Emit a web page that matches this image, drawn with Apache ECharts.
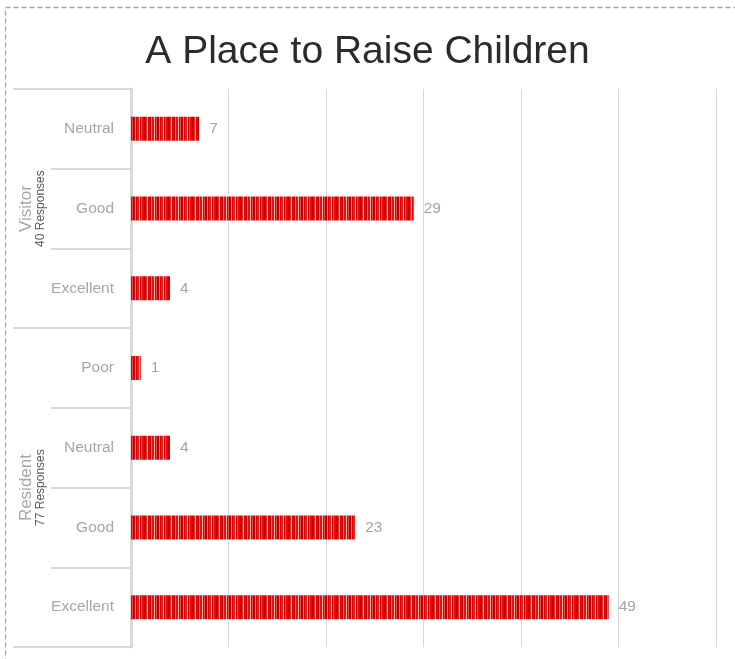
<!DOCTYPE html>
<html>
<head>
<meta charset="utf-8">
<script src="https://cdn.jsdelivr.net/npm/echarts@6/dist/echarts.min.js"></script>
<style>
  html, body { margin: 0; padding: 0; background: #ffffff; }
  #chart { width: 735px; height: 659px; }
</style>
</head>
<body>
<div id="chart"></div>
<script>
// Rating rows, top to bottom
const ratingLabels = ['Neutral', 'Good', 'Excellent', 'Poor', 'Neutral', 'Good', 'Excellent'];
const responseCounts = [7, 29, 4, 1, 4, 23, 49];

// Respondent groups spanning the rows above
const groupNames = ['Visitor', 'Resident'];
const groupResponses = [40, 77];
const groupSizes = [3, 4];

// Value axis
const axisMax = 60;
const axisStep = 10;

// Group boundaries and centres along the row index
const groupEdges = [0];
groupSizes.forEach(function (n) { groupEdges.push(groupEdges[groupEdges.length - 1] + n); });
const groupCentres = groupSizes.map(function (n, i) { return groupEdges[i] + n / 2; });

// Striped red fill for the bars
function stripeTexture() {
  const palette = ['#d00000', '#e8302f', '#f39a9a', '#dc0a0a', '#c40000', '#ef6b6b',
                   '#e01414', '#f7b9b9', '#d80808', '#ec4444', '#c80000', '#f28585',
                   '#d40404', '#e42222', '#f5a8a8', '#cc0000', '#ee5656', '#e00e0e'];
  const widths = [2, 1, 1, 2, 1, 1, 2, 1, 1, 1, 2, 1, 1, 2, 1, 1, 1, 2];
  const total = widths.reduce(function (a, b) { return a + b; }, 0);
  const cv = document.createElement('canvas');
  cv.width = total;
  cv.height = 4;
  const ctx = cv.getContext('2d');
  let x = 0;
  widths.forEach(function (w, i) {
    ctx.fillStyle = palette[i];
    ctx.fillRect(x, 0, w, 4);
    x += w;
  });
  return cv;
}

const labelFont = 'Liberation Sans, Arial, sans-serif';
const gridGrey = '#d9d9d9';
const textGrey = '#a6a6a6';

const chart = echarts.init(document.getElementById('chart'), null, { renderer: 'canvas' });

chart.setOption({
  backgroundColor: '#ffffff',
  animation: false,
  title: {
    text: 'A Place to Raise Children',
    left: 'center',
    top: 28,
    textStyle: {
      fontFamily: labelFont,
      fontSize: 39,
      fontWeight: 'normal',
      color: '#2b2b2b'
    }
  },
  graphic: [{
    type: 'rect',
    shape: { x: 5.5, y: 7.5, width: 900, height: 900 },
    style: { fill: 'none', stroke: '#a6a6a6', lineWidth: 1.3, lineDash: [5, 3] },
    silent: true,
    z: 100
  }],
  grid: { left: 131, right: 19, top: 89, bottom: 12, containLabel: false },
  xAxis: {
    type: 'value',
    min: 0,
    max: axisMax,
    interval: axisStep,
    axisLine: { show: false },
    axisTick: { show: false },
    axisLabel: { show: false },
    splitLine: { show: true, lineStyle: { color: gridGrey, width: 1 } }
  },
  yAxis: [{
    type: 'category',
    inverse: true,
    data: ratingLabels,
    axisLine: { show: true, lineStyle: { color: gridGrey, width: 3 } },
    axisTick: { show: true, length: 80, lineStyle: { color: gridGrey, width: 2 } },
    axisLabel: {
      margin: 17,
      fontFamily: labelFont,
      fontSize: 15.5,
      color: textGrey,
      padding: [3, 0, 0, 0]
    }
  }, {
    type: 'value',
    inverse: true,
    min: 0,
    max: groupEdges[groupEdges.length - 1],
    position: 'left',
    axisLine: { show: false },
    splitLine: { show: false },
    axisTick: {
      show: true,
      length: 118,
      customValues: groupEdges,
      lineStyle: { color: gridGrey, width: 2 }
    },
    axisLabel: {
      show: true,
      rotate: 90,
      margin: 84,
      customValues: groupCentres,
      formatter: function (v) {
        const i = groupCentres.indexOf(v);
        return '{g|' + groupNames[i] + '}\n{r|' + groupResponses[i] + ' Responses}';
      },
      rich: {
        g: { fontFamily: labelFont, fontSize: 17, color: textGrey, lineHeight: 16 },
        r: { fontFamily: labelFont, fontSize: 12, color: '#595959', lineHeight: 13 }
      }
    }
  }],
  series: [{
    type: 'bar',
    yAxisIndex: 0,
    data: responseCounts,
    barWidth: 24,
    itemStyle: { color: { image: stripeTexture(), repeat: 'repeat' } },
    label: {
      show: true,
      position: 'right',
      distance: 10,
      fontFamily: labelFont,
      fontSize: 15.5,
      color: textGrey,
      padding: [3, 0, 0, 0]
    }
  }]
});
</script>
</body>
</html>
